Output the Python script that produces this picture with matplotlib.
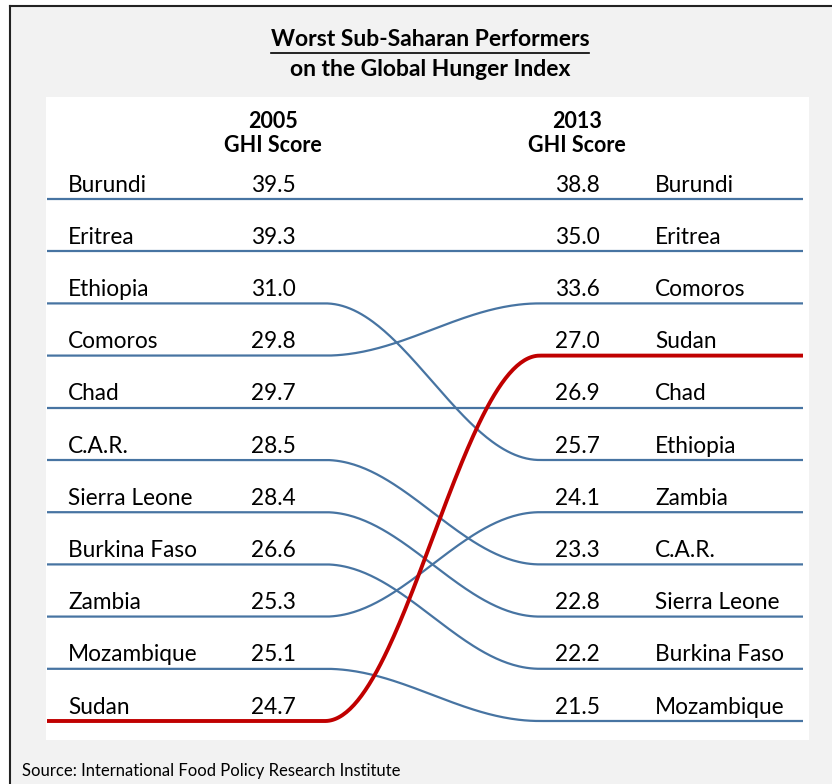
import numpy as np
import matplotlib.pyplot as plt
from matplotlib.lines import Line2D
from matplotlib.patches import Rectangle

# data
countries_2005 = ['Burundi', 'Eritrea', 'Ethiopia', 'Comoros', 'Chad', 'C.A.R.',
                  'Sierra Leone', 'Burkina Faso', 'Zambia', 'Mozambique', 'Sudan']
scores_2005 = [39.5, 39.3, 31.0, 29.8, 29.7, 28.5, 28.4, 26.6, 25.3, 25.1, 24.7]
countries_2013 = ['Burundi', 'Eritrea', 'Comoros', 'Sudan', 'Chad', 'Ethiopia',
                  'Zambia', 'C.A.R.', 'Sierra Leone', 'Burkina Faso', 'Mozambique']
scores_2013 = [38.8, 35.0, 33.6, 27.0, 26.9, 25.7, 24.1, 23.3, 22.8, 22.2, 21.5]
highlight = 'Sudan'

title1 = 'Worst Sub-Saharan Performers'
title2 = 'on the Global Hunger Index'
source = 'Source: International Food Policy Research Institute'

plt.rcParams['font.family'] = ['Lato', 'DejaVu Sans']

W, H = 832, 784
fig = plt.figure(figsize=(W / 100, H / 100), dpi=100)
fig.patch.set_facecolor('white')

def fx(px):
    return px / W

def fy(py):
    return 1 - py / H

# gray frame with dark left/top border
fig.patches.append(Rectangle((fx(10), 0), 1 - fx(10), fy(6), transform=fig.transFigure,
                             facecolor='#f2f2f2', edgecolor='none', zorder=-2))
fig.lines.append(Line2D([fx(10), fx(10)], [0, fy(6)], transform=fig.transFigure,
                        color='#222222', lw=1.5, zorder=-1))
fig.lines.append(Line2D([fx(10), 1], [fy(6), fy(6)], transform=fig.transFigure,
                        color='#222222', lw=1.5, zorder=-1))

# white panel
left, right, top, bottom = 46, 809, 97, 740
ax = fig.add_axes([fx(left), fy(bottom), fx(right - left), (bottom - top) / H])
ax.set_zorder(1)
ax.set_facecolor('white')
for s in ax.spines.values():
    s.set_visible(False)
ax.set_xticks([])
ax.set_yticks([])

row0, step = 199, 52.2
ax.set_xlim(left, right)
ax.set_ylim((bottom - row0) / step, (top - row0) / step)

blue = '#4774a2'
red = '#c00000'
x_start, x_end = 47, 803
c0, c1 = 325, 540

xs = np.linspace(x_start, x_end, 400)
t = np.clip((xs - c0) / (c1 - c0), 0, 1)
ease = (1 - np.cos(np.pi * t)) / 2

for i, name in enumerate(countries_2005):
    j = countries_2013.index(name)
    ys = i + (j - i) * ease
    if name == highlight:
        ax.plot(xs, ys, color=red, lw=2.8, zorder=3, solid_capstyle='butt')
    else:
        ax.plot(xs, ys, color=blue, lw=1.6, zorder=2, solid_capstyle='butt')

fs = 16.3
for i, (name, val) in enumerate(zip(countries_2005, scores_2005)):
    ax.text(68, i - 0.14, name, fontsize=fs, ha='left', va='baseline', color='black')
    ax.text(273, i - 0.14, f'{val:.1f}', fontsize=fs, ha='center', va='baseline', color='black')
for i, (name, val) in enumerate(zip(countries_2013, scores_2013)):
    ax.text(577, i - 0.14, f'{val:.1f}', fontsize=fs, ha='center', va='baseline', color='black')
    ax.text(655, i - 0.14, name, fontsize=fs, ha='left', va='baseline', color='black')

# column headers
for x, yr in [(273, '2005'), (577, '2013')]:
    fig.text(fx(x), fy(121), yr, fontsize=15.5, fontweight='bold', ha='center', va='center', zorder=5)
    fig.text(fx(x), fy(146), 'GHI Score', fontsize=15.5, fontweight='bold', ha='center', va='center', zorder=5)

# title
t1 = fig.text(fx(430), fy(40), title1, fontsize=16.5, fontweight='bold', ha='center', va='center')
fig.text(fx(430), fy(70), title2, fontsize=16.5, fontweight='bold', ha='center', va='center')
fig.canvas.draw()
bb = t1.get_window_extent(fig.canvas.get_renderer())
fig.lines.append(Line2D([bb.x0 / W, bb.x1 / W], [fy(53), fy(53)], transform=fig.transFigure,
                        color='black', lw=1.2))

fig.text(fx(22), fy(771), source, fontsize=12, ha='left', va='center')

fig.savefig('out.png', dpi=100, facecolor=fig.get_facecolor())
